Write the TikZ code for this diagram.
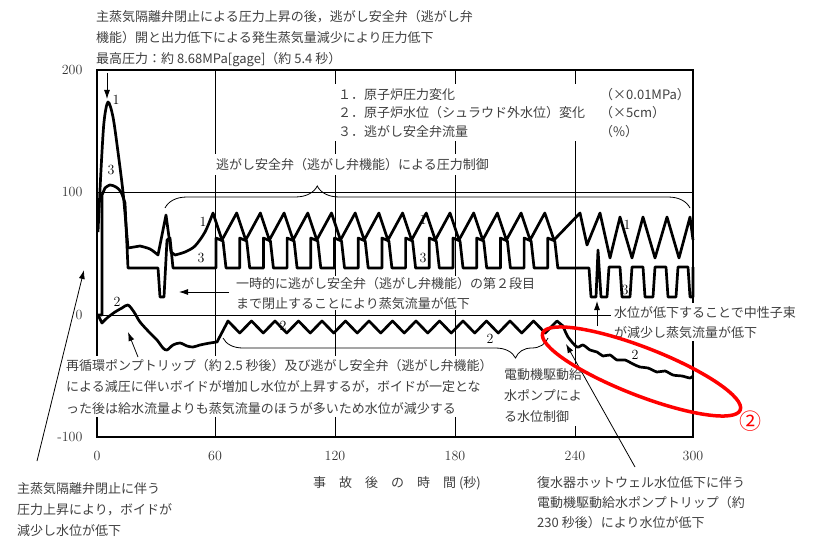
\documentclass[tikz,border=0pt]{standalone}
\usepackage{fontspec}
\newfontfamily\jp{Noto Sans CJK JP}
\usetikzlibrary{arrows.meta,decorations.pathreplacing}

\begin{document}
\begin{tikzpicture}[
    x = 1pt, y = -1pt,
    curve/.style = {line width = 2.7pt, line join = round},
    frame/.style = {line width = 2.6pt},
    gridline/.style = {line width = 0.9pt},
    note/.style = {font = \jp\fontsize{13}{21}\selectfont,
      text = black!75, align = left, anchor = north west, inner sep = 1pt},
    blank/.style = {fill = white},
    num/.style = {font = \fontsize{14}{14}\selectfont, text = black!80},
    tag/.style = {font = \fontsize{14}{14}\selectfont, inner sep = 0pt},
    pointer/.style = {line width = 0.8pt, -{Latex[length = 9pt, width = 6pt]}},
    bracket/.style = {line width = 0.8pt, decorate},
    ]

    \useasboundingbox (0, 0) rectangle (826, 540);

    % grid and frame
    \foreach \gx in {215, 335, 455, 575}
    \draw [gridline] (\gx, 70) -- (\gx, 437);
    \foreach \gy in {192, 315}
    \draw [gridline] (97, \gy) -- (693, \gy);
    \draw [frame] (97, 70) rectangle (693, 437);

    % axis numbers
    \foreach \t/\gx in {0/97, 60/215, 120/335, 180/455, 240/575, 300/693}
    \node [num, name = xt\t] at (\gx, 456) {\t};
    \node [num, anchor = east, name = yt200] at (86, 70) {200};
    \node [num, anchor = east, name = yt100] at (86, 192) {100};
    \node [num, anchor = east, name = yt0] at (86, 315) {0};
    \node [num, anchor = east, name = ytm100] at (86, 437) {-100};

    \node [note, anchor = center, name = xlabel] at (397, 483)
    {事\hspace{1em}故\hspace{1em}後\hspace{1em}の\hspace{1em}時\hspace{1em}間 (秒)};

    % notes
    \node at (95, 9) [note, name = topnote]
    {主蒸気隔離弁閉止による圧力上昇の後，逃がし安全弁（逃がし弁\\
      機能）開と出力低下による発生蒸気量減少により圧力低下\\
      最高圧力：約 8.68MPa[gage]（約 5.4 秒）};

    \node at (334, 84) [note, blank, inner sep = 4pt, name = legend,
      font = \jp\fontsize{13}{18.5}\selectfont]
    {１．原子炉圧力変化\\
      ２．原子炉水位（シュラウド外水位）変化\\
      ３．逃がし安全弁流量};
    \node at (599, 87) [note, name = units,
      font = \jp\fontsize{13}{18.5}\selectfont]
    {（×0.01MPa）\\ （×5cm）\\ （\%）};

    \node at (212, 154) [note, blank, inner sep = 4pt, name = reliefnote]
    {逃がし安全弁（逃がし弁機能）による圧力制御};

    \node at (235, 276) [note, blank, name = stagenote,
      font = \jp\fontsize{13}{20}\selectfont]
    {一時的に逃がし安全弁（逃がし弁機能）の第２段目\\
      まで閉止することにより蒸気流量が低下};

    \node at (63, 356) [note, blank, inner sep = 3pt, name = recircnote,
      font = \jp\fontsize{13}{21.5}\selectfont]
    {再循環ポンプトリップ（約 2.5 秒後）及び逃がし安全弁（逃がし弁機能）\\
      による減圧に伴いボイドが増加し水位が上昇するが，ボイドが一定とな\\
      った後は給水流量よりも蒸気流量のほうが多いため水位が減少する};

    \node at (500, 364) [note, blank, inner sep = 4pt, name = pumpnote]
    {電動機駆動給\\ 水ポンプによ\\ る水位制御};

    \node at (611, 303) [note, blank, inner sep = 3pt, name = neutronnote,
      font = \jp\fontsize{13}{20}\selectfont]
    {水位が低下することで中性子束\\ が減少し蒸気流量が低下};

    \node at (16, 481) [note, name = msivnote]
    {主蒸気隔離弁閉止に伴う\\ 圧力上昇により，ボイドが\\ 減少し水位が低下};

    \node at (536, 475) [note, name = tripnote,
      font = \jp\fontsize{13}{20}\selectfont]
    {復水器ホットウェル水位低下に伴う\\
      電動機駆動給水ポンプトリップ（約\\
      230 秒後）により水位が低下};

    % 1: pressure
    \draw [curve] plot [smooth] coordinates {(98,232) (101,170) (104,122)
      (108,102) (113,117) (118,152) (123,192) (126,225) (128,248)}
    -- plot [smooth] coordinates {(140,246) (150,249) (158,255)}
    -- (166,215) -- (171,252)
    -- plot [smooth] coordinates {(175,255) (185,252) (195,246) (205,232) (213,213)}
    \foreach \k in {1,...,14} { -- ++(9,27) -- ++(14.7,-27) }
    -- (554,240) -- (580,213) -- (587,245) -- (600,213) -- (610,258)
    -- (620,217) -- (632,258) -- (643,217) -- (655,258) -- (667,217)
    -- (679,258) -- (690,217) -- (693,240);

    % 3: relief valve flow
    \draw [curve] (98,315) -- (102,315) -- (102,195)
    -- plot [smooth] coordinates {(105,188) (110,185) (116,187) (121,192) (125,203)}
    -- (128,268) -- (158,268) -- (160,297) -- (164,297) -- (167,240)
    -- (170,238) -- (173,268) -- (216,268)
    \foreach \k in {1,...,15} { -- ++(0,-30) -- ++(7,3) -- ++(3,27) -- ++(13.7,0) }
    -- (589,268) -- (591,297) -- (596,297) -- (598,250) -- (601,297)
    -- (607,297) -- (609,267)
    \foreach \k in {1,...,3} { -- ++(11,0) -- ++(2,30) -- ++(8,0) -- ++(2,-30) }
    -- (688,267) -- (690,297) -- (693,297) -- (693,267);

    % 2: water level
    \draw [curve] (98,315)
    -- plot [smooth] coordinates {(102,323) (107,318) (115,312) (122,308)
      (128,305) (134,312) (140,322) (150,333) (157,340) (163,348) (167,350)
      (173,345) (180,343) (187,346) (193,347) (200,345) (210,343) (217,342)}
    -- (228,321)
    \foreach \k in {1,...,14} { -- ++(11.75,12) -- ++(11.75,-12) }
    -- plot [smooth] coordinates {(563,326) (568,337) (577,347) (583,345)
      (590,350) (597,352) (603,356) (610,355) (617,360) (625,360) (633,364)
      (640,367) (648,368) (657,372) (665,371) (673,375) (682,376) (690,378)
      (693,376)};

    % curve numbers
    \node [tag, name = p1a] at (116, 100) {1};
    \node [tag, name = p1b] at (203, 222) {1};
    \node [tag, name = p1c] at (423, 220) {1};
    \node [tag, name = p1d] at (627, 225) {1};
    \node [tag, name = f3a] at (111, 170) {3};
    \node [tag, name = f3b] at (201, 258) {3};
    \node [tag, name = f3c] at (423, 258) {3};
    \node [tag, name = f3d] at (625, 290) {3};
    \node [tag, name = w2a] at (117, 302) {2};
    \node [tag, name = w2b] at (283, 326) {2};
    \node [tag, name = w2c] at (490, 339) {2};
    \node [tag, name = w2d] at (635, 355) {2};

    % braces
    \draw [bracket, decoration = {brace, amplitude = 22pt, aspect = 0.29}]
    (165, 208) -- (690, 208);
    \draw [bracket, decoration = {brace, amplitude = 20pt, aspect = 0.1}]
    (548, 338) -- (223, 338);

    % pointers
    \coordinate (peak_from) at (107, 73);
    \coordinate (peak_to) at (107, 99);
    \draw [pointer] (peak_from) -- (peak_to);

    \coordinate (stage_from) at (229, 292);
    \coordinate (stage_to) at (179, 292);
    \draw [pointer] (stage_from) -- (stage_to);

    \coordinate (neutron_from) at (597, 326);
    \coordinate (neutron_to) at (597, 301);
    \draw [pointer] (neutron_from) -- (neutron_to);

    \coordinate (recirc_from) at (138, 357);
    \coordinate (recirc_to) at (128, 332);
    \draw [pointer] (recirc_from) -- (recirc_to);

    \coordinate (msiv_from) at (37, 461);
    \coordinate (msiv_to) at (84, 270);
    \draw [pointer] (msiv_from) -- (msiv_to);

    \coordinate (trip_from) at (635, 467);
    \coordinate (trip_to) at (566, 344);
    \draw [pointer] (trip_from) -- (trip_to);

    % mark
    \draw [red, line width = 3.5pt, rotate around = {-21.3:(641.5, 371.5)}]
    (641.5, 371.5) ellipse (106 and 24);
    \node [text = red, font = \jp\fontsize{22}{22}\selectfont, name = mark2]
    at (750, 421) {②};
  \end{tikzpicture}
\end{document}
